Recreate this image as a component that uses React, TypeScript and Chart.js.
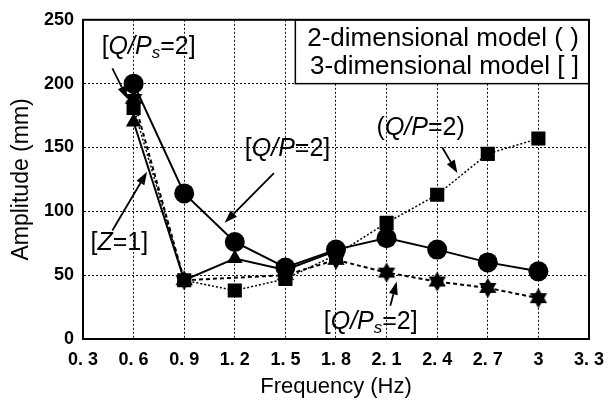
import React, { useEffect, useRef } from 'react';
import { Chart, registerables } from 'chart.js';

Chart.register(...registerables);

// ---------- data ----------
const xTickValues = [0.3, 0.6, 0.9, 1.2, 1.5, 1.8, 2.1, 2.4, 2.7, 3.0, 3.3];
const xTickLabels = ['0. 3', '0. 6', '0. 9', '1. 2', '1. 5', '1. 8', '2. 1', '2. 4', '2. 7', '3', '3. 3'];
const yTickValues = [0, 50, 100, 150, 200, 250];
const yTickLabels = ['0', '50', '100', '150', '200', '250'];

const frequencies = [0.6, 0.9, 1.2, 1.5, 1.8, 2.1, 2.4, 2.7, 3.0];
const circleQP3D: (number | null)[] = [200, 114, 76, 56, 70, 79, 70, 60, 53];
const triangleZ1: (number | null)[] = [170, 46, 63, 54, 69, null, null, null, null];
const squareQP2D: (number | null)[] = [181, 46, 38, 47, 66, 91, 113, 145, 157];
const starQPs3D: (number | null)[] = [188, 46, null, 50, 62, 52, 45, 40, 32];

const legendLines = ['2-dimensional model ( )', '3-dimensional model [ ]'];

type Part = { t: string; i?: boolean; sub?: boolean };
const annotationTexts: Part[][] = [
  [{ t: '[' }, { t: 'Q/P', i: true }, { t: 's', i: true, sub: true }, { t: '=2]' }],
  [{ t: '[' }, { t: 'Z', i: true }, { t: '=1]' }],
  [{ t: '[' }, { t: 'Q/P', i: true }, { t: '=2]' }],
  [{ t: '(' }, { t: 'Q/P', i: true }, { t: '=2)' }],
  [{ t: '[' }, { t: 'Q/P', i: true }, { t: 's', i: true, sub: true }, { t: '=2]' }],
];

// layout (data-space anchors)
const annotationCenters: [number, number][] = [
  [0.689, 229], [0.515, 75], [1.513, 149], [2.302, 165], [2.006, 13],
];
const arrowTails: [number, number][] = [
  [0.474, 212], [0.474, 85], [1.432, 130], [2.43, 150], [2.122, 26],
];
const arrowTips: [number, number][] = [
  [0.565, 188], [0.68, 131], [1.14, 91], [2.52, 130], [2.16, 45],
];

const TEXT_FONT = '"Liberation Sans", Arial, Helvetica, sans-serif';
const TICK_FONT = '"Liberation Sans", Arial, sans-serif';

function makeStar(R: number): HTMLCanvasElement {
  const size = Math.ceil(R * 2 + 2);
  const c = document.createElement('canvas');
  c.width = size;
  c.height = size;
  const g = c.getContext('2d')!;
  g.fillStyle = '#000';
  const cx = size / 2, cy = size / 2;
  for (const rot of [-Math.PI / 2, Math.PI / 2]) {
    g.beginPath();
    for (let k = 0; k < 3; k++) {
      const a = rot + (k * 2 * Math.PI) / 3;
      const px = cx + R * Math.cos(a), py = cy + R * Math.sin(a);
      if (k === 0) g.moveTo(px, py); else g.lineTo(px, py);
    }
    g.closePath();
    g.fill();
  }
  return c;
}

function toPoints(vals: (number | null)[]) {
  return frequencies.map((f, i) => ({ x: f, y: vals[i] }));
}

function drawParts(ctx: CanvasRenderingContext2D, parts: Part[], cx: number, cy: number, size: number) {
  const fontFor = (p: Part) => `${p.i ? 'italic ' : ''}${p.sub ? Math.round(size * 0.68) : size}px ${TEXT_FONT}`;
  let total = 0;
  const widths = parts.map((p) => {
    ctx.font = fontFor(p);
    const w = ctx.measureText(p.t).width;
    total += w;
    return w;
  });
  let x = cx - total / 2;
  ctx.textBaseline = 'middle';
  ctx.textAlign = 'left';
  parts.forEach((p, k) => {
    ctx.font = fontFor(p);
    ctx.fillText(p.t, x, p.sub ? cy + size * 0.25 : cy);
    x += widths[k];
  });
}

function drawArrow(ctx: CanvasRenderingContext2D, x1: number, y1: number, x2: number, y2: number) {
  const ang = Math.atan2(y2 - y1, x2 - x1);
  const len = 13, half = 4.5;
  const bx = x2 - len * Math.cos(ang), by = y2 - len * Math.sin(ang);
  ctx.beginPath();
  ctx.moveTo(x1, y1);
  ctx.lineTo(bx, by);
  ctx.lineWidth = 1.8;
  ctx.strokeStyle = '#000';
  ctx.setLineDash([]);
  ctx.stroke();
  ctx.beginPath();
  ctx.moveTo(x2, y2);
  ctx.lineTo(bx + half * Math.sin(ang), by - half * Math.cos(ang));
  ctx.lineTo(bx - half * Math.sin(ang), by + half * Math.cos(ang));
  ctx.closePath();
  ctx.fillStyle = '#000';
  ctx.fill();
}

const decorPlugin = {
  id: 'decor',
  beforeDatasetsDraw(chart: any) {
    const { ctx, scales } = chart;
    const xs = scales.x, ys = scales.y;
    const left = xs.getPixelForValue(1.559);
    const right = chart.chartArea.right;
    const top = ys.getPixelForValue(250);
    const bottom = ys.getPixelForValue(200);
    ctx.save();
    ctx.fillStyle = '#fff';
    ctx.fillRect(left, top, right - left, bottom - top);
    ctx.strokeStyle = '#000';
    ctx.lineWidth = 1.5;
    ctx.setLineDash([]);
    ctx.strokeRect(left, top, right - left, bottom - top);
    ctx.fillStyle = '#000';
    ctx.font = `26px ${TEXT_FONT}`;
    ctx.textAlign = 'right';
    ctx.textBaseline = 'middle';
    const rx = xs.getPixelForValue(3.24);
    ctx.fillText(legendLines[0], rx, ys.getPixelForValue(235));
    ctx.fillText(legendLines[1], rx, ys.getPixelForValue(213.5));
    ctx.restore();
  },
  afterDatasetsDraw(chart: any) {
    const { ctx, scales, chartArea } = chart;
    const xs = scales.x, ys = scales.y;
    ctx.save();
    ctx.strokeStyle = '#000';
    ctx.lineWidth = 2;
    ctx.setLineDash([]);
    ctx.strokeRect(chartArea.left, chartArea.top, chartArea.right - chartArea.left, chartArea.bottom - chartArea.top);
    ctx.fillStyle = '#000';
    annotationTexts.forEach((parts, k) => {
      const [ax, ay] = annotationCenters[k];
      drawParts(ctx, parts, xs.getPixelForValue(ax), ys.getPixelForValue(ay), 25);
      const [tx, ty] = arrowTails[k];
      const [hx, hy] = arrowTips[k];
      drawArrow(ctx, xs.getPixelForValue(tx), ys.getPixelForValue(ty), xs.getPixelForValue(hx), ys.getPixelForValue(hy));
    });
    ctx.restore();
  },
};

export default function App() {
  const ref = useRef<HTMLCanvasElement | null>(null);
  useEffect(() => {
    document.body.style.margin = '0';
    document.body.style.background = '#fff';
    const canvas = ref.current!;
    const star = makeStar(10);
    const common = {
      borderColor: '#000',
      pointBackgroundColor: '#000',
      pointBorderColor: '#000',
      pointBorderWidth: 0,
      spanGaps: true,
      fill: false,
      tension: 0,
    };
    const tickFont = { family: TICK_FONT, size: 18, weight: 'bold' };
    const chart = new Chart(canvas, {
      type: 'line',
      data: {
        datasets: [
          { ...common, label: '[Q/P=2]', data: toPoints(circleQP3D), borderWidth: 2, pointStyle: 'circle', pointRadius: 10 },
          { ...common, label: '[Z=1]', data: toPoints(triangleZ1), borderWidth: 2, pointStyle: 'triangle', pointRadius: 9 },
          { ...common, label: '(Q/P=2)', data: toPoints(squareQP2D), borderWidth: 1.5, borderDash: [2, 2], pointStyle: 'rect', pointRadius: 10 },
          { ...common, label: '[Q/Ps=2]', data: toPoints(starQPs3D), borderWidth: 2, borderDash: [4, 3], pointStyle: star as any, pointRadius: 10 },
        ] as any,
      },
      options: {
        animation: false,
        responsive: false,
        devicePixelRatio: 1,
        layout: { padding: { top: 19, right: 14, left: 0, bottom: 0 } },
        plugins: { legend: { display: false }, tooltip: { enabled: false } },
        scales: {
          x: {
            type: 'linear',
            min: 0.3,
            max: 3.3,
            afterBuildTicks: (s: any) => { s.ticks = xTickValues.map((v) => ({ value: v })); },
            afterFit: (s: any) => { s.height = 65; },
            ticks: {
              color: '#000',
              padding: 10,
              maxRotation: 0,
              autoSkip: false,
              font: tickFont,
              callback: (v: any) => {
                const i = xTickValues.findIndex((t) => Math.abs(t - Number(v)) < 1e-6);
                return i >= 0 ? xTickLabels[i] : '';
              },
            },
            grid: { color: '#111', lineWidth: 1, drawTicks: false, tickLength: 0 },
            border: { display: true, color: '#000', width: 2, dash: [2, 2] },
            title: { display: true, text: 'Frequency (Hz)', color: '#000', font: { family: TEXT_FONT, size: 22 }, padding: { top: 0, bottom: 4 } },
          },
          y: {
            type: 'linear',
            min: 0,
            max: 250,
            afterBuildTicks: (s: any) => { s.ticks = yTickValues.map((v) => ({ value: v })); },
            afterFit: (s: any) => { s.width = 83; },
            ticks: {
              color: '#000',
              padding: 9,
              autoSkip: false,
              font: tickFont,
              callback: (v: any) => {
                const i = yTickValues.indexOf(Number(v));
                return i >= 0 ? yTickLabels[i] : '';
              },
            },
            grid: { color: '#111', lineWidth: 1, drawTicks: false, tickLength: 0 },
            border: { display: true, color: '#000', width: 2, dash: [2, 2] },
            title: { display: true, text: 'Amplitude (mm)', color: '#000', font: { family: TEXT_FONT, size: 23 }, padding: { top: 8, bottom: 0 } },
          },
        },
      } as any,
      plugins: [decorPlugin],
    });
    return () => chart.destroy();
  }, []);
  return <canvas ref={ref} width={614} height={404} style={{ display: 'block', width: 614, height: 404 }} />;
}
